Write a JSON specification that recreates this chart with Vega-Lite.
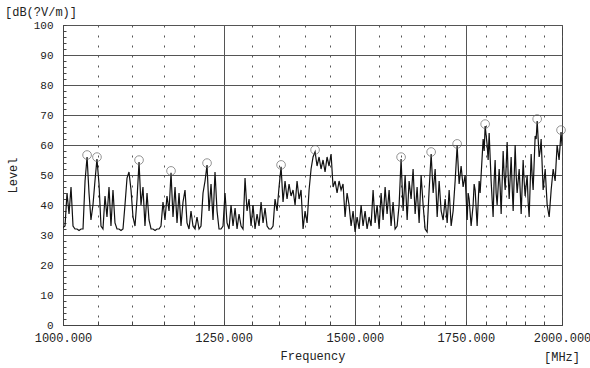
{
  "$schema": "https://vega.github.io/schema/vega-lite/v6.json",
  "width": 499,
  "height": 300,
  "autosize": "none",
  "padding": {"left": 63, "top": 25, "right": 28, "bottom": 43},
  "background": "white",
  "config": {"view": {"stroke": "#444", "strokeWidth": 1}, "font": "Liberation Mono"},
  "title": {"text": "[dB(?V/m)]", "anchor": "start", "frame": "group", "dx": -58, "offset": 0, "font": "Liberation Mono", "fontSize": 12, "fontWeight": "normal", "color": "#222"},
  "datasets": {
    "trace": [
      {"f":1000.0,"level":32.5},{"f":1002.8,"level":33},{"f":1005.6,"level":44},{"f":1008.4,"level":37},{"f":1011.2,"level":46},{"f":1014.0,"level":33},{"f":1016.8,"level":32},{"f":1019.7,"level":32},{"f":1022.5,"level":31.5},{"f":1025.4,"level":32},{"f":1028.2,"level":32},{"f":1031.1,"level":48},{"f":1034.0,"level":56},{"f":1036.8,"level":44},{"f":1039.6,"level":35},{"f":1042.5,"level":40},{"f":1045.4,"level":48},{"f":1048.3,"level":55.3},{"f":1051.3,"level":47},{"f":1054.2,"level":33},{"f":1057.1,"level":32},{"f":1060.1,"level":43},{"f":1063.0,"level":36},{"f":1066.0,"level":46},{"f":1068.9,"level":33},{"f":1071.9,"level":45},{"f":1074.9,"level":34},{"f":1077.9,"level":32},{"f":1080.9,"level":32},{"f":1083.9,"level":31.5},{"f":1086.9,"level":32},{"f":1089.9,"level":40},{"f":1093.0,"level":49},{"f":1096.0,"level":51},{"f":1099.1,"level":45},{"f":1102.1,"level":36},{"f":1105.2,"level":33},{"f":1108.3,"level":42},{"f":1111.4,"level":54.3},{"f":1114.4,"level":40},{"f":1117.5,"level":46},{"f":1120.6,"level":33},{"f":1123.8,"level":44},{"f":1126.9,"level":35},{"f":1130.1,"level":32},{"f":1133.2,"level":32},{"f":1136.4,"level":31.5},{"f":1139.5,"level":32},{"f":1142.7,"level":32},{"f":1145.8,"level":33},{"f":1149.0,"level":41},{"f":1152.2,"level":35},{"f":1155.4,"level":43},{"f":1158.7,"level":38},{"f":1161.9,"level":50.7},{"f":1165.1,"level":36},{"f":1168.4,"level":46},{"f":1171.6,"level":34},{"f":1174.9,"level":44},{"f":1178.1,"level":33},{"f":1181.4,"level":41},{"f":1184.7,"level":45},{"f":1188.0,"level":34},{"f":1191.3,"level":32},{"f":1194.6,"level":38},{"f":1197.9,"level":33},{"f":1201.3,"level":32},{"f":1204.6,"level":36},{"f":1208.0,"level":32},{"f":1211.3,"level":33},{"f":1214.7,"level":44},{"f":1218.1,"level":48},{"f":1221.5,"level":53.3},{"f":1224.9,"level":38},{"f":1228.3,"level":47},{"f":1231.7,"level":35},{"f":1235.1,"level":51},{"f":1238.6,"level":38},{"f":1242.0,"level":32},{"f":1245.5,"level":32},{"f":1248.9,"level":33},{"f":1252.4,"level":44},{"f":1255.9,"level":34},{"f":1259.4,"level":32},{"f":1262.9,"level":40},{"f":1266.4,"level":33},{"f":1270.0,"level":39},{"f":1273.5,"level":32},{"f":1277.0,"level":37},{"f":1280.6,"level":33},{"f":1284.1,"level":32},{"f":1287.7,"level":49},{"f":1291.3,"level":38},{"f":1294.9,"level":42},{"f":1298.5,"level":33},{"f":1302.1,"level":40},{"f":1305.7,"level":32},{"f":1309.4,"level":37},{"f":1313.0,"level":33},{"f":1316.7,"level":41},{"f":1320.3,"level":34},{"f":1324.0,"level":39},{"f":1327.7,"level":33},{"f":1331.4,"level":32},{"f":1335.1,"level":32},{"f":1338.8,"level":33},{"f":1342.5,"level":42},{"f":1346.3,"level":38},{"f":1350.0,"level":46},{"f":1353.8,"level":52.7},{"f":1357.5,"level":41},{"f":1361.3,"level":48},{"f":1365.1,"level":42},{"f":1368.9,"level":47},{"f":1372.7,"level":43},{"f":1376.5,"level":45},{"f":1380.4,"level":40},{"f":1384.2,"level":48},{"f":1388.1,"level":42},{"f":1391.9,"level":45},{"f":1395.8,"level":32},{"f":1399.7,"level":38},{"f":1403.6,"level":34},{"f":1407.5,"level":45},{"f":1411.4,"level":52},{"f":1415.3,"level":56},{"f":1419.3,"level":57.7},{"f":1423.2,"level":53},{"f":1427.2,"level":56},{"f":1431.1,"level":52},{"f":1435.1,"level":55},{"f":1439.1,"level":51},{"f":1443.1,"level":56},{"f":1447.1,"level":53},{"f":1451.2,"level":57},{"f":1455.2,"level":46},{"f":1459.3,"level":48},{"f":1463.3,"level":44},{"f":1467.4,"level":48},{"f":1471.5,"level":45},{"f":1475.5,"level":47},{"f":1479.7,"level":36},{"f":1483.8,"level":44},{"f":1487.9,"level":40},{"f":1492.1,"level":33},{"f":1496.2,"level":38},{"f":1500.4,"level":31},{"f":1504.6,"level":36},{"f":1508.8,"level":32},{"f":1513.0,"level":40},{"f":1517.1,"level":33},{"f":1521.4,"level":38},{"f":1525.6,"level":32},{"f":1529.9,"level":36},{"f":1534.1,"level":33},{"f":1538.4,"level":45},{"f":1542.7,"level":34},{"f":1547.0,"level":40},{"f":1551.3,"level":32},{"f":1555.6,"level":44},{"f":1559.9,"level":35},{"f":1564.3,"level":46},{"f":1568.6,"level":37},{"f":1573.0,"level":45},{"f":1577.3,"level":33},{"f":1581.7,"level":41},{"f":1586.1,"level":32},{"f":1590.6,"level":33},{"f":1595.0,"level":40},{"f":1599.4,"level":55.3},{"f":1603.9,"level":38},{"f":1608.4,"level":50},{"f":1612.9,"level":35},{"f":1617.3,"level":48},{"f":1621.8,"level":42},{"f":1626.3,"level":52},{"f":1630.9,"level":37},{"f":1635.4,"level":46},{"f":1640.0,"level":34},{"f":1644.5,"level":50},{"f":1649.1,"level":40},{"f":1653.7,"level":32},{"f":1658.3,"level":31},{"f":1662.9,"level":45},{"f":1667.6,"level":57},{"f":1672.2,"level":44},{"f":1676.9,"level":52},{"f":1681.6,"level":36},{"f":1686.2,"level":48},{"f":1690.9,"level":38},{"f":1695.6,"level":35},{"f":1700.3,"level":42},{"f":1705.1,"level":34},{"f":1709.8,"level":45},{"f":1714.6,"level":33},{"f":1719.3,"level":38},{"f":1724.1,"level":48},{"f":1728.9,"level":59.7},{"f":1733.7,"level":47},{"f":1738.5,"level":53},{"f":1743.3,"level":46},{"f":1748.2,"level":50},{"f":1753.1,"level":35},{"f":1755.5,"level":44},{"f":1758.0,"level":42},{"f":1762.8,"level":33},{"f":1767.7,"level":40},{"f":1770.2,"level":47},{"f":1772.7,"level":45},{"f":1777.6,"level":33},{"f":1782.6,"level":48},{"f":1785.0,"level":44},{"f":1787.5,"level":50},{"f":1792.5,"level":62},{"f":1795.0,"level":58},{"f":1797.5,"level":66.3},{"f":1802.5,"level":60},{"f":1805.0,"level":55},{"f":1807.5,"level":64},{"f":1812.5,"level":48},{"f":1817.5,"level":36},{"f":1820.0,"level":48},{"f":1822.6,"level":55},{"f":1825.1,"level":44},{"f":1827.7,"level":40},{"f":1832.8,"level":52},{"f":1835.3,"level":46},{"f":1837.9,"level":37},{"f":1843.0,"level":58},{"f":1845.6,"level":50},{"f":1848.2,"level":45},{"f":1853.3,"level":61},{"f":1855.9,"level":50},{"f":1858.5,"level":42},{"f":1863.6,"level":56},{"f":1866.2,"level":46},{"f":1868.8,"level":38},{"f":1874.0,"level":60},{"f":1876.6,"level":50},{"f":1879.2,"level":44},{"f":1884.5,"level":52},{"f":1887.1,"level":45},{"f":1889.7,"level":37},{"f":1894.9,"level":55},{"f":1897.5,"level":48},{"f":1900.2,"level":43},{"f":1905.5,"level":50},{"f":1908.1,"level":41},{"f":1910.8,"level":36},{"f":1916.1,"level":57},{"f":1918.7,"level":50},{"f":1921.4,"level":45},{"f":1926.8,"level":63},{"f":1929.5,"level":62},{"f":1932.2,"level":68},{"f":1937.5,"level":56},{"f":1940.2,"level":58},{"f":1942.9,"level":62},{"f":1948.3,"level":45},{"f":1953.8,"level":52},{"f":1959.2,"level":40},{"f":1964.7,"level":36},{"f":1970.1,"level":45},{"f":1975.6,"level":52},{"f":1981.0,"level":48},{"f":1986.5,"level":60},{"f":1991.9,"level":55},{"f":1997.3,"level":64.3},{"f":2000.0,"level":60}
    ],
    "peaks": [
      {"f":1034.0,"level":56},{"f":1048.3,"level":55.3},{"f":1111.4,"level":54.3},{"f":1161.9,"level":50.7},{"f":1221.5,"level":53.3},{"f":1353.8,"level":52.7},{"f":1419.3,"level":57.7},{"f":1599.4,"level":55.3},{"f":1667.6,"level":57},{"f":1728.9,"level":59.7},{"f":1797.5,"level":66.3},{"f":1932.2,"level":68},{"f":1997.3,"level":64.3}
    ]
  },
  "layer": [
    {
      "data": {"name": "trace"},
      "mark": {"type": "line", "color": "#111", "strokeWidth": 1.2, "clip": true},
      "encoding": {
        "x": {
          "field": "f", "type": "quantitative",
          "scale": {"type": "log", "domain": [1000, 2000], "nice": false},
          "axis": {
            "values": [1000,1050,1100,1150,1200,1250,1300,1350,1400,1450,1500,1550,1600,1650,1700,1750,1800,1850,1900,1950,2000],
            "tickCount": 50,
            "labelExpr": "indexof([1000,1250,1500,1750,2000], datum.value) >= 0 ? format(datum.value, '.3f') : ''",
            "labelOverlap": false, "labelFlush": false,
            "labelFont": "Liberation Mono", "labelFontSize": 12, "labelColor": "#222", "labelPadding": 11,
            "title": "Frequency", "titleFont": "Liberation Mono", "titleFontSize": 12, "titleFontWeight": "normal", "titleColor": "#222", "titlePadding": 7,
            "tickSize": -4, "tickColor": "#444", "domainColor": "#444",
            "grid": true, "gridColor": "#555", "gridWidth": 1,
            "gridDash": {"condition": {"test": "indexof([1250,1500,1750], datum.value) >= 0", "value": []}, "value": [2, 8]}
          }
        },
        "y": {
          "field": "level", "type": "quantitative",
          "scale": {"domain": [0, 100], "nice": false},
          "axis": {
            "values": [0,2,4,6,8,10,12,14,16,18,20,22,24,26,28,30,32,34,36,38,40,42,44,46,48,50,52,54,56,58,60,62,64,66,68,70,72,74,76,78,80,82,84,86,88,90,92,94,96,98,100],
            "tickCount": 100,
            "labelExpr": "datum.value % 10 === 0 ? datum.label : ''",
            "labelOverlap": false, "labelFlush": false,
            "labelFont": "Liberation Mono", "labelFontSize": 11, "labelColor": "#222", "labelPadding": 13,
            "title": "Level", "titleFont": "Liberation Mono", "titleFontSize": 12, "titleFontWeight": "normal", "titleColor": "#222", "titlePadding": 14,
            "tickSize": -3, "tickColor": "#444", "domainColor": "#444",
            "grid": true, "gridColor": "#555", "gridWidth": 1,
            "gridOpacity": {"condition": {"test": "datum.value % 10 === 0", "value": 1}, "value": 0}
          }
        }
      }
    },
    {
      "data": {"name": "peaks"},
      "mark": {"type": "point", "shape": "circle", "filled": false, "size": 75, "stroke": "#666", "strokeWidth": 1, "yOffset": -2},
      "encoding": {
        "x": {"field": "f", "type": "quantitative"},
        "y": {"field": "level", "type": "quantitative"}
      }
    },
    {
      "data": {"values": [{"unit": "[MHz]"}]},
      "mark": {"type": "text", "dy": 32, "font": "Liberation Mono", "fontSize": 12, "color": "#222", "align": "center", "baseline": "middle"},
      "encoding": {
        "x": {"datum": 2000},
        "y": {"datum": 0},
        "text": {"field": "unit"}
      }
    }
  ]
}
